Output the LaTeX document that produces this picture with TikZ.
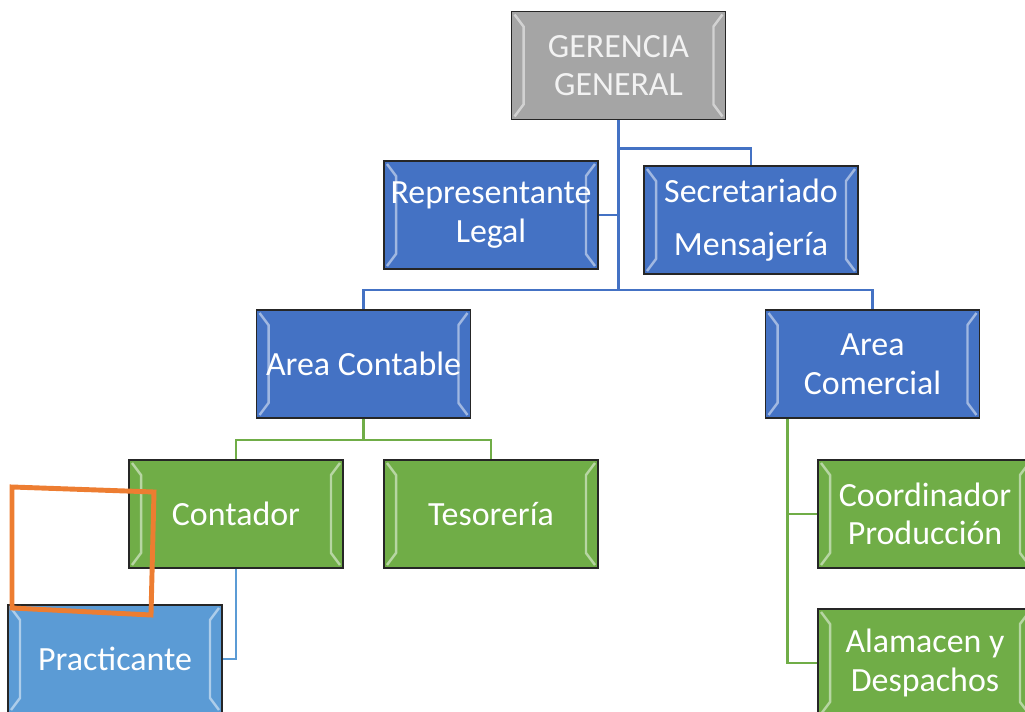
\documentclass[tikz,border=0pt]{standalone}
\usepackage{fontspec}
\setmainfont{Carlito}
\usepackage{xcolor}
\usetikzlibrary{calc,positioning}
\definecolor{ggray}{HTML}{A5A5A5}
\definecolor{oblue}{HTML}{4472C4}
\definecolor{ogreen}{HTML}{70AD47}
\definecolor{lblue}{HTML}{5B9BD5}
\definecolor{omark}{HTML}{ED7D31}
\tikzset{
	orgbox/.style={
			rectangle, draw=black!85, line width=1.1pt,
			minimum width=4.28cm, minimum height=2.16cm, inner sep=0pt,
			text=white, align=center, font=\fontsize{19.3}{22}\selectfont,
			path picture={
					\draw[white, opacity=.5, line width=1.4pt]
					([xshift=.06cm,yshift=-.06cm]path picture bounding box.north west)
					-- ([xshift=.24cm,yshift=-.3cm]path picture bounding box.north west)
					-- ([xshift=.24cm,yshift=.3cm]path picture bounding box.south west)
					-- ([xshift=.06cm,yshift=.06cm]path picture bounding box.south west);
					\draw[white, opacity=.5, line width=1.4pt]
					([xshift=-.06cm,yshift=-.06cm]path picture bounding box.north east)
					-- ([xshift=-.24cm,yshift=-.3cm]path picture bounding box.north east)
					-- ([xshift=-.24cm,yshift=.3cm]path picture bounding box.south east)
					-- ([xshift=-.06cm,yshift=.06cm]path picture bounding box.south east);
				}
		},
	grisbox/.style={orgbox, fill=ggray, text=white!95!black},
	azulbox/.style={orgbox, fill=oblue},
	verdebox/.style={orgbox, fill=ogreen},
	celestebox/.style={orgbox, fill=lblue},
	linkazul/.style={draw=oblue, line width=1.6pt},
	linkverde/.style={draw=ogreen, line width=1.6pt},
	linkceleste/.style={draw=lblue, line width=1.6pt}
}

\begin{document}
\begin{tikzpicture}[x=0.02cm, y=-0.02cm]
        \useasboundingbox (0,0) rectangle (1025,712);
        % Cajas
        \node[grisbox] (gg) at (618.5,65.5) {GERENCIA\\GENERAL};
        \node[azulbox] (rl) at (491,215) {Representante\\Legal};
        \node[azulbox] (sm) at (751,220) {Secretariado\\[8pt]Mensajería};
        \node[azulbox] (ac) at (363.5,364) {Area Contable};
        \node[azulbox] (acom) at (872.5,364) {Area\\Comercial};
        \node[verdebox] (cont) at (236,514) {Contador};
        \node[verdebox] (tes) at (491,514) {Tesorería};
        \node[celestebox] (prac) at (115,659) {Practicante};
        \node[verdebox] (coord) at (925,514) {Coordinador\\Producción};
        \node[verdebox] (alm) at (925,663) {Alamacen y\\Despachos};
        % Lineas
        \coordinate (bus) at (618.5,290);
        \coordinate (acomdown) at ([xshift=0.46cm]acom.south west);
        \draw[linkazul] (gg.south) -- (bus);
        \draw[linkazul] (gg.south) ++(0,28) -| (sm.north);
        \draw[linkazul] (rl.east) -- (rl.east -| gg.south);
        \draw[linkazul] (ac.north) |- (bus) -| (acom.north);
        \draw[linkverde] (ac.south) -- ++(0,21) -| (cont.north);
        \draw[linkverde] (ac.south) ++(0,21) -| (tes.north);
        \draw[linkceleste] (cont.south) |- (prac.east);
        \draw[linkverde] (acomdown) |- (coord.west);
        \draw[linkverde] (acomdown) |- (alm.west);
        % Marca
        \draw[omark, line width=2.8pt] (12,487) -- (154,492) -- (151,615) -- (12,608) -- cycle;
    \end{tikzpicture}
\end{document}
